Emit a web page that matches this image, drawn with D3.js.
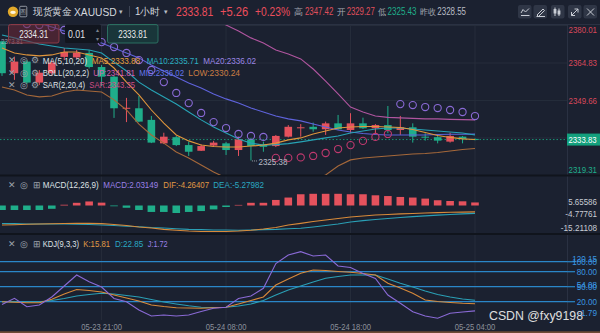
<!DOCTYPE html>
<html><head><meta charset="utf-8">
<script src="https://cdn.jsdelivr.net/npm/d3@7/dist/d3.min.js"></script>
<style>
html,body{margin:0;padding:0;background:#1b2130;overflow:hidden;}
svg{display:block;}
text{font-family:"Liberation Sans",Arial,sans-serif;}
</style></head><body>
<svg id="c" width="600" height="333"></svg>
<script>
// ---------- DATA ----------
const timeLabels = ["05-23 21:00","05-24 08:00","05-24 18:00","05-25 04:00"];
const timeIdx = [8,18,28,38];
const open  = [2373.6,2360.7,2365.4,2356.9,2360.7,2367.3,2367.1,2368.9,2363.2,2359.3,2346.5,2346.5,2341.8,2332.3,2334.8,2331.6,2329.3,2331.4,2332.3,2329.6,2333.9,2331.9,2331.2,2335.0,2338.6,2339.0,2338.0,2340.4,2337.7,2340.4,2338.4,2339.7,2337.7,2338.8,2335.0,2334.8,2333.0,2335.0,2334.1];
const high  = [2373.81,2367.4,2366.0,2362.0,2366.0,2370.9,2370.1,2370.1,2364.0,2359.6,2350.7,2351.5,2343.4,2336.6,2335.3,2333.0,2331.9,2333.3,2332.9,2335.0,2334.5,2333.0,2335.7,2339.7,2340.1,2340.7,2341.1,2343.8,2344.5,2342.7,2340.1,2347.42,2343.4,2340.4,2336.4,2335.7,2336.6,2335.3,2334.3];
const low   = [2359.6,2358.0,2356.3,2355.9,2360.0,2366.0,2366.5,2362.6,2355.5,2342.6,2340.9,2340.9,2332.4,2332.0,2331.2,2327.2,2329.2,2330.9,2327.6,2327.2,2325.38,2328.9,2330.8,2334.7,2335.0,2337.0,2335.7,2337.7,2336.4,2338.1,2336.5,2336.4,2335.7,2332.6,2333.4,2332.3,2332.6,2332.3,2333.5];
const close = [2360.7,2365.4,2356.9,2360.9,2365.0,2369.3,2369.0,2363.2,2359.3,2346.5,2346.7,2341.1,2332.6,2335.0,2331.6,2328.9,2331.2,2332.6,2329.6,2333.9,2331.2,2330.9,2335.3,2339.0,2338.8,2338.0,2340.4,2338.0,2340.4,2338.4,2339.7,2337.7,2338.8,2335.0,2334.8,2333.4,2335.3,2334.1,2333.81];
const ma5  = [2370.9,2368.9,2368.1,2367.7,2368.1,2369.3,2369.3,2368.1,2366.9,2362.8,2357.1,2351.9,2345.8,2340.5,2335.7,2333.3,2331.6,2331.0,2330.8,2330.8,2331.2,2331.6,2332.4,2333.7,2334.5,2336.1,2337.3,2338.5,2338.9,2339.1,2339.1,2338.9,2338.7,2337.9,2336.7,2335.5,2334.7,2334.1,2333.88];
const ma10 = [2376.2,2375.0,2373.7,2372.5,2371.7,2370.9,2370.5,2370.1,2368.9,2365.2,2361.6,2357.1,2353.9,2351.1,2348.2,2345.0,2341.8,2338.9,2336.5,2334.1,2332.4,2331.6,2331.8,2332.2,2332.9,2333.7,2334.5,2335.3,2336.5,2337.3,2338.1,2338.5,2338.5,2338.1,2337.7,2337.3,2336.9,2336.5,2335.71];
const ma20 = [2385.5,2383.9,2382.6,2381.0,2379.4,2377.8,2376.2,2374.6,2372.9,2370.9,2368.9,2366.9,2364.0,2361.6,2359.2,2356.7,2354.7,2352.3,2350.3,2348.6,2346.6,2345.0,2343.4,2342.2,2341.4,2340.1,2338.9,2337.7,2336.9,2336.3,2335.9,2335.7,2335.7,2335.7,2335.7,2335.9,2336.0,2336.0,2336.02];
const bollUp  = [2401.0,2400.0,2399.2,2398.4,2397.6,2396.8,2396.0,2395.1,2394.2,2393.3,2392.3,2391.2,2390.0,2388.8,2387.4,2386.0,2384.6,2383.1,2380.2,2377.8,2375.0,2372.9,2370.1,2368.5,2366.5,2362.4,2357.5,2352.3,2347.0,2345.0,2343.4,2342.8,2342.6,2342.4,2342.2,2342.2,2342.0,2341.9,2341.81];
const bollMid = ma20;
const bollLow = [2355.1,2353.9,2351.9,2351.1,2351.5,2353.1,2353.9,2353.5,2353.1,2349.9,2345.8,2340.1,2335.7,2332.4,2328.8,2326.4,2323.5,2320.7,2318.3,2316.7,2315.4,2314.6,2314.2,2314.6,2315.8,2317.5,2319.5,2323.1,2325.6,2326.4,2326.8,2327.2,2327.6,2328.0,2328.2,2328.6,2329.2,2329.8,2330.24];
const sar = [2383.1,2382.2,2380.6,2380.2,2379.4,2378.2,2376.6,2375.0,2373.3,2371.3,2368.9,2366.0,2362.0,2357.1,2352.7,2348.6,2344.6,2340.9,2338.5,2336.1,2335.3,2334.9,2326.4,2326.4,2326.6,2327.2,2328.4,2330.0,2331.6,2333.3,2334.9,2336.1,2348.2,2347.8,2347.0,2346.6,2345.8,2345.0,2343.35];
const macdHist = [-3.0,-3.0,-3.0,-3.0,-2.2,0.5,1.8,2.7,1.9,-0.5,-1.5,-3.0,-4.3,-4.3,-5.0,-4.3,-3.7,-2.6,-1.0,0.4,1.8,1.8,3.7,5.3,7.5,7.8,7.8,7.8,7.5,7.5,6.8,6.3,5.7,5.3,4.6,3.5,3.0,2.8,2.03149];
const dif = [-13.0,-12.8,-12.5,-12.3,-12.2,-12.0,-11.9,-11.9,-12.1,-12.7,-13.3,-14.3,-15.0,-15.9,-16.5,-17.0,-17.3,-17.3,-17.3,-17.0,-16.5,-15.7,-14.7,-13.0,-11.9,-10.7,-9.7,-8.7,-7.7,-7.0,-6.3,-6.0,-5.6,-5.3,-5.0,-4.75,-4.55,-4.4,-4.26407];
const dea = [-12.0,-12.1,-12.3,-12.3,-12.3,-12.3,-12.5,-12.7,-13.0,-13.3,-13.8,-14.2,-14.7,-15.0,-15.5,-15.9,-16.1,-16.3,-16.3,-16.5,-16.3,-16.1,-15.9,-15.5,-15.2,-14.3,-13.3,-12.3,-11.0,-10.1,-9.3,-8.7,-8.0,-7.4,-6.9,-6.4,-6.0,-5.6,-5.27982];
const kK = [20.0,19.0,18.0,18.0,24.8,35.4,44.4,42.4,39.4,33.4,27.4,21.4,13.4,10.4,8.0,7.4,6.8,7.8,8.8,15.4,22.4,29.4,53.4,65.4,76.8,83.4,82.4,80.4,78.8,76.4,73.4,56.8,47.4,36.8,23.4,20.4,18.4,16.8,15.81];
const kD = [20.0,20.0,20.0,20.0,22.4,26.4,31.4,34.4,36.8,35.4,32.4,29.4,24.4,19.4,15.4,11.8,8.8,8.4,8.8,11.4,15.4,22.4,33.4,43.4,51.4,59.5,66.8,70.5,73.4,73.4,73.4,65.4,56.8,49.4,41.4,34.4,29.4,25.4,22.85];
const kJ = [14.4,26.8,10.0,13.4,29.4,51.4,73.4,60.0,49.4,26.4,20.0,3.4,-8.6,-6.6,-8.6,-6.6,0.4,6.8,8.8,26.4,31.4,46.8,96.4,113.4,120.15,111.4,113.4,91.4,88.4,76.4,66.4,33.4,16.8,0.0,-8.6,-13.2,-3.2,-0.6,1.72];
const priceTicks = [2380.01,2364.83,2349.66,2334.49,2319.31];
const lastPrice = 2333.83;
const macdTicks = [5.65586,-4.77761,-15.21108];
const kdjTicks = [120.15,100.00,80.00,54.08,50.00,20.00,-1.79];
const kdjLevels = [100,80,50,20];
const quoteLast = 2333.81, quoteChg = 5.26, quotePct = 0.23;
const quoteHigh = 2347.42, quoteOpen = 2329.27, quoteLow = 2325.43, quotePrev = 2328.55;
const askPrice = 2334.31, bidPrice = 2333.81, lot = "0.01";

// ---------- SETUP ----------
const C = {bg:'#1b2130', grid:'#262d3b', red:'#e5525d', green:'#1fae8a',
  ma5:'#e0963c', ma10:'#27a3b5', ma20:'#5f63dc', up:'#b0559f', low:'#a5683a',
  sarUp:'#8a6ad6', sarDn:'#c0396e', dif:'#d88a3a', dea:'#2a9fb5', kdjLine:'#2a86c8',
  txt:'#c8ccd4', gray:'#9ca1ab'};
const svg = d3.select('#c');
const defs = svg.append('defs');
function clip(id,x,y,w,h){defs.append('clipPath').attr('id',id).append('rect').attr('x',x).attr('y',y).attr('width',w).attr('height',h);}
clip('cm',0,25,567,150); clip('cd',0,176.5,567,56.5); clip('ck',0,235.5,567,85);
svg.append('rect').attr('width',600).attr('height',333).attr('fill',C.bg);

const N = close.length;
const x = d3.scaleLinear().domain([0,N-1]).range([2,475]);
const yP = d3.scaleLinear().domain([2364.83,2349.66]).range([63,100.47]);
const yM = d3.scaleLinear().domain([0,-10]).range([205.5,220.5]);
const yK = d3.scaleLinear().domain([80,20]).range([271.7,301.7]);
const last = a => a[a.length-1];

function lab(g,px,py,s,o={}){
  const t=g.append('text').attr('x',px).attr('y',py).attr('dy','0.35em').attr('fill',o.c||C.txt)
    .attr('font-size',o.fs||10).attr('text-anchor',o.a||'start').text(s);
  if(o.ff) t.attr('font-family',o.ff);
  if(o.fw) t.attr('font-weight',o.fw);
  if(o.op) t.attr('opacity',o.op);
  if(o.w) t.attr('textLength',o.w).attr('lengthAdjust','spacingAndGlyphs');
  return t;
}
const numW = s => [...s].reduce((a,ch)=>a+(ch==='.'?2.05:ch==='-'?2.7:4.1),0);
function rlab(g,right,py,s,w,o={}){ return lab(g,right-w,py,s,Object.assign({w,fs:9},o)); }

// ---------- GRID ----------
const grid = svg.append('g');
timeIdx.forEach(i=>grid.append('line').attr('x1',x(i)).attr('x2',x(i)).attr('y1',25).attr('y2',320).attr('stroke',C.grid));
priceTicks.forEach(v=>grid.append('line').attr('x1',0).attr('x2',567).attr('y1',yP(v)).attr('y2',yP(v)).attr('stroke',C.grid));
grid.append('line').attr('x1',567.5).attr('x2',567.5).attr('y1',25).attr('y2',320).attr('stroke','#2a3142');
grid.append('line').attr('x1',0).attr('x2',600).attr('y1',24.5).attr('y2',24.5).attr('stroke','#2a3142');
[175.5,234].forEach(yy=>grid.append('rect').attr('x',0).attr('width',600).attr('y',yy-1).attr('height',2).attr('fill','#10141c'));
svg.append('rect').attr('x',0).attr('y',331.3).attr('width',600).attr('height',1.7).attr('fill','#6e4a35');

// ---------- MAIN PANEL ----------
const gm = svg.append('g').attr('clip-path','url(#cm)');
const lineP = d3.line().x((d,i)=>x(i)).y(d=>yP(d));
gm.append('line').attr('x1',0).attr('x2',567).attr('y1',yP(lastPrice)).attr('y2',yP(lastPrice))
  .attr('stroke','#1b8f73').attr('stroke-dasharray','1.5,2');
const cw = 7.6;
const cg = gm.append('g');
d3.range(N).forEach(i=>{
  const col = close[i]>=open[i]?C.red:C.green;
  cg.append('line').attr('x1',x(i)).attr('x2',x(i)).attr('y1',yP(high[i])).attr('y2',yP(low[i])).attr('stroke',col).attr('stroke-width',1);
  const y0=yP(Math.max(open[i],close[i])), y1=yP(Math.min(open[i],close[i]));
  cg.append('rect').attr('x',x(i)-cw/2).attr('width',cw).attr('y',y0).attr('height',Math.max(1,y1-y0)).attr('fill',col);
});
[[bollUp,C.up],[bollLow,C.low],[bollMid,C.ma20],[ma10,C.ma10],[ma5,C.ma5]].forEach(([d,c])=>
  gm.append('path').attr('d',lineP(d)).attr('fill','none').attr('stroke',c).attr('stroke-width',1.1));
sar.forEach((v,i)=>gm.append('circle').attr('cx',x(i)).attr('cy',yP(v)).attr('r',3.6).attr('fill','none')
  .attr('stroke',v>close[i]?C.sarUp:C.sarDn).attr('stroke-width',1.1));
const iMin = low.indexOf(d3.min(low));
gm.append('line').attr('x1',x(iMin)+1).attr('x2',x(iMin)+7).attr('y1',yP(low[iMin])+0.5).attr('y2',yP(low[iMin])+0.5)
  .attr('stroke','#9aa0aa').attr('stroke-dasharray','1,1');
lab(gm,x(iMin)+7.5,yP(low[iMin])+1,low[iMin].toFixed(2),{c:'#b8bcc6',fs:9.5,w:29});
const iMax = high.indexOf(d3.max(high));
lab(svg,x(iMax)-1,yP(high[iMax]),high[iMax].toFixed(2),{c:'#b8bcc6',fs:8,w:22,op:0.8});

// price axis
priceTicks.filter(v=>Math.abs(yP(v)-yP(lastPrice))>8).forEach(v=>{
  const yy=Math.max(29.7,Math.min(170,yP(v)));
  rlab(svg,597,yy,v.toFixed(2),28.5,{c:v>lastPrice?'#d8485a':'#1fae8a'});
});
svg.append('rect').attr('x',567).attr('y',yP(lastPrice)-6).attr('width',33).attr('height',12).attr('fill','#13a07d');
rlab(svg,596.5,yP(lastPrice),lastPrice.toFixed(2),28,{c:'#ffffff'});

// ---------- MACD PANEL ----------
const gd = svg.append('g').attr('clip-path','url(#cd)');
macdHist.forEach((v,i)=>{
  const a=yM(0), b=yM(v);
  gd.append('rect').attr('x',x(i)-cw/2).attr('width',cw).attr('y',Math.min(a,b)).attr('height',Math.max(0.6,Math.abs(b-a)))
    .attr('fill',v>=0?C.red:C.green);
});
const lineM = d3.line().x((d,i)=>x(i)).y(d=>yM(d));
gd.append('path').attr('d',lineM(dea)).attr('fill','none').attr('stroke',C.dea).attr('stroke-width',1.1);
gd.append('path').attr('d',lineM(dif)).attr('fill','none').attr('stroke',C.dif).attr('stroke-width',1.1);
macdTicks.forEach(v=>{
  const yy=Math.max(202.3,Math.min(228.3,yM(v)+1.5));
  const s=v.toFixed(5);
  rlab(svg,597,yy,s,numW(s)*1.08);
});

// ---------- KDJ PANEL ----------
const gk = svg.append('g').attr('clip-path','url(#ck)');
kdjLevels.forEach(v=>gk.append('line').attr('x1',0).attr('x2',567).attr('y1',yK(v)).attr('y2',yK(v)).attr('stroke',C.kdjLine).attr('stroke-width',1.2));
const lineK = d3.line().x((d,i)=>x(i)).y(d=>yK(d));
[[kD,C.dea],[kK,C.dif],[kJ,C.sarUp]].forEach(([d,c])=>gk.append('path').attr('d',lineK(d)).attr('fill','none').attr('stroke',c).attr('stroke-width',1.1));
kdjLevels.forEach(v=>svg.append('line').attr('x1',567).attr('x2',575).attr('y1',yK(v)).attr('y2',yK(v)).attr('stroke',C.kdjLine).attr('stroke-width',1.2));
kdjTicks.forEach(v=>{
  const yy=Math.max(258.5,yK(v));
  const s=v.toFixed(2);
  rlab(svg,597,yy,s,numW(s)*1.1,{c:'#3a96e0'});
});

timeIdx.forEach((i,k)=>lab(svg,x(i)-20.35,326.6,timeLabels[k],{c:'#8b909a',fs:9,w:40.7}));

// ---------- LEGENDS ----------
const lg = svg.append('g');
const DJ = '"DejaVu Sans",sans-serif';
function icons(yy,third){
  lab(lg,11.7,yy,'✕',{a:'middle',c:C.gray,fs:8.5,ff:DJ});
  lab(lg,23.6,yy,'◎',{a:'middle',c:C.gray,fs:8.5,ff:DJ});
  lab(lg,third==='⊞'?36.5:34.5,yy,third,{a:'middle',c:C.gray,fs:third==='⊞'?8.5:9,ff:DJ});
}
const legRows = [
  [60.3,'⚙','MA(5,10,20)',44.6,[[`MA5:${last(ma5).toFixed(2)}`,91.7,48.3,'#e8a040'],[`MA10:${last(ma10).toFixed(2)}`,146.7,52,'#2ab0c2'],[`MA20:${last(ma20).toFixed(2)}`,203.3,52.7,'#9b87e6']]],
  [72.7,'⚙','BOLL(20,2,2)',46.3,[[`UP:${last(bollUp).toFixed(2)}`,93.3,41.7,'#d45fb0'],[`MID:${last(bollMid).toFixed(2)}`,139.3,44.7,'#6577ee'],[`LOW:${last(bollLow).toFixed(2)}`,188.3,51.7,'#c97d43']]],
  [85,'⚙','SAR(2,20,4)',42.3,[[`SAR:${last(sar).toFixed(2)}`,89.3,45.7,'#d04d84']]],
  [185,'⊞','MACD(12,26,9)',56,[[`MACD:${last(macdHist).toFixed(5)}`,103.3,55,'#9a80e6'],[`DIF:${last(dif).toFixed(5)}`,163.3,45.7,'#e09a45'],[`DEA:${last(dea).toFixed(5)}`,213.3,50.7,'#2aa8c2']]],
  [244,'⊞','KDJ(9,3,3)',36.3,[[`K:${last(kK).toFixed(2)}`,83.3,26.7,'#e09a45'],[`D:${last(kD).toFixed(2)}`,115,28.3,'#2aa8c2'],[`J:${last(kJ).toFixed(2)}`,147.7,20,'#9a80e6']]]
];
legRows.forEach(([yy,ic,name,nw,items])=>{
  icons(yy,ic);
  lab(lg,42.7,yy,name,{c:'#dfe2e6',fs:9.5,w:nw});
  items.forEach(([s,px,w,c])=>lab(lg,px,yy,s,{c,fs:9.5,w}));
});

// ---------- TRADE BOXES ----------
const tb = svg.append('g');
tb.append('rect').attr('x',8.5).attr('y',24.5).attr('width',50.5).attr('height',18.5).attr('rx',2)
  .attr('fill','rgba(110,40,55,0.55)').attr('stroke','#8a3a47');
lab(tb,19.2,34,askPrice.toFixed(2),{c:'#e8e8ea',fs:10,w:29});
tb.append('rect').attr('x',65).attr('y',24.5).attr('width',36).attr('height',18.5).attr('rx',1.5).attr('fill','#11151e');
lab(tb,68,34,lot,{c:'#e0e2e6',fs:10,w:17});
lab(tb,97.3,29.5,'▴',{a:'middle',c:'#7c828c',fs:6,ff:DJ});
lab(tb,97.3,39,'▾',{a:'middle',c:'#7c828c',fs:6,ff:DJ});
tb.append('rect').attr('x',107.5).attr('y',24.5).attr('width',50.5).attr('height',18.5).attr('rx',2)
  .attr('fill','rgba(25,80,70,0.45)').attr('stroke','#2b6e60');
lab(tb,118.2,34,bidPrice.toFixed(2),{c:'#e8e8ea',fs:10,w:29});

// ---------- HEADER ----------
const hd = svg.append('g');
const CJK = '"Noto Sans CJK SC",sans-serif';
hd.append('circle').attr('cx',13).attr('cy',11.7).attr('r',5.2).attr('fill','#e2a92a');
hd.append('ellipse').attr('cx',13).attr('cy',12.3).attr('rx',2.8).attr('ry',1.6).attr('fill','#fff6dc');
hd.append('rect').attr('x',19.8).attr('y',6.3).attr('width',7).attr('height',10.5).attr('rx',1).attr('fill','none').attr('stroke','#9ca1ab').attr('stroke-width',0.9);
lab(hd,23.3,11.7,'图',{a:'middle',c:'#9ca1ab',fs:5.5,ff:CJK});
lab(hd,33.3,11.7,'现货黄金',{c:'#d4d7dd',fs:10,ff:CJK,w:38.4});
lab(hd,74,11.7,'XAUUSD',{c:'#d4d7dd',fs:11,w:42.7});
lab(hd,120.5,11.7,'▾',{a:'middle',c:'#b8bcc4',fs:7,ff:DJ});
hd.append('line').attr('x1',129.5).attr('x2',129.5).attr('y1',6).attr('y2',17).attr('stroke','#3d4454');
lab(hd,135,11.7,'1小时',{c:'#d4d7dd',fs:10,ff:CJK,w:25});
lab(hd,166,11.7,'▾',{a:'middle',c:'#b8bcc4',fs:7,ff:DJ});
lab(hd,176,11.7,quoteLast.toFixed(2),{c:'#ec4e5c',fs:12,w:37.3});
lab(hd,220,11.7,'+'+quoteChg.toFixed(2),{c:'#ec4e5c',fs:12,w:28.3});
lab(hd,255,11.7,'+'+quotePct.toFixed(2)+'%',{c:'#ec4e5c',fs:12,w:35});
lab(hd,294,11.7,'高',{c:'#a2a7b0',fs:9,ff:CJK,w:9});
lab(hd,305,11.7,quoteHigh.toFixed(2),{c:'#e0505c',fs:10,w:28.3});
lab(hd,336.6,11.7,'开',{c:'#a2a7b0',fs:9,ff:CJK,w:8.5});
lab(hd,346.7,11.7,quoteOpen.toFixed(2),{c:'#e0505c',fs:10,w:28});
lab(hd,378.3,11.7,'低',{c:'#a2a7b0',fs:9,ff:CJK,w:8});
lab(hd,387.5,11.7,quoteLow.toFixed(2),{c:'#1fae8a',fs:10,w:29});
lab(hd,419.5,11.7,'昨收',{c:'#a2a7b0',fs:9,ff:CJK,w:16});
lab(hd,437.3,11.7,quotePrev.toFixed(2),{c:'#b8bcc4',fs:10,w:28.7});
const icx = [518,533.5,551,568,583.5];
icx.forEach(px=>hd.append('rect').attr('x',px).attr('y',5).attr('width',13.5).attr('height',13.5).attr('rx',2).attr('fill','#2f3646'));
const ic = hd.append('g').attr('stroke','#c8ccd4').attr('fill','none').attr('stroke-width',1);
ic.append('path').attr('d','M521,13 L523,9.5 L525.5,12 L529,8.5 M521,15.5 L529.5,15.5');
ic.append('path').attr('d','M537,15 L543,9 L544.5,10.5 L538.5,16.5 Z M536.5,16.5 L545,16.5');
ic.append('path').attr('d','M555,7.5 L555,16 M559,8.5 L559,16');
hd.append('rect').attr('x',553.6).attr('y',9).attr('width',2.8).attr('height',4.5).attr('fill','#c8ccd4');
hd.append('rect').attr('x',557.6).attr('y',10.5).attr('width',2.8).attr('height',4).attr('fill','#c8ccd4');
ic.append('path').attr('d','M571.5,15.5 L578,9 M574.5,9 L578,9 L578,12.5 M571.5,12 L571.5,15.5 L575,15.5');
ic.append('path').attr('d','M587,8.5 L594,15.5 M594,8.5 L587,15.5');

lab(svg,489,316,'CSDN @fxy9198',{c:'#eeeeee',fs:12,w:94,op:0.92});
</script>
</body></html>
